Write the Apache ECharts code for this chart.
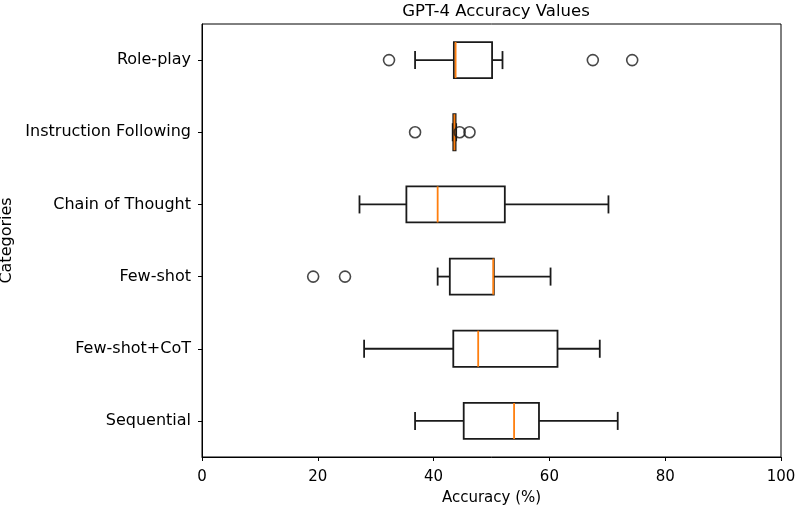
<!DOCTYPE html>
<html>
<head>
<meta charset="utf-8">
<script src="https://cdn.jsdelivr.net/npm/echarts@6/dist/echarts.min.js"></script>
<style>
  html, body { margin: 0; padding: 0; background: #fff; }
  #chart { width: 796px; height: 508px; }
</style>
</head>
<body>
<div id="chart"></div>
<script>
// categories, bottom to top (category axis starts at the bottom)
const categories = ['Sequential', 'Few-shot+CoT', 'Few-shot', 'Chain of Thought', 'Instruction Following', 'Role-play']
// [min whisker, q1, median, q3, max whisker] per category
const boxStats = [
  [36.8, 45.2, 53.9, 58.2, 71.8],
  [28.0, 43.4, 47.7, 61.4, 68.7],
  [40.7, 42.8, 50.3, 50.4, 60.2],
  [27.2, 35.3, 40.7, 52.3, 70.2],
  [43.3, 43.4, 43.6, 43.8, 43.9],
  [36.8, 43.5, 43.8, 50.1, 51.9]
]
// fliers: [value, category]
const outliers = [
  [19.2, 'Few-shot'],
  [24.7, 'Few-shot'],
  [36.8, 'Instruction Following'],
  [44.5, 'Instruction Following'],
  [46.2, 'Instruction Following'],
  [32.3, 'Role-play'],
  [67.5, 'Role-play'],
  [74.3, 'Role-play']
]

const font = 'DejaVu Sans'
const lineColor = '#1a1a1a'
const medianColor = '#ff7f0e'

const chart = echarts.init(document.getElementById('chart'))

const boxData = boxStats.map((s, i) => [i].concat(s))

function renderBox(params, api) {
  const cat = api.value(0)
  const lo = api.value(1), q1 = api.value(2), med = api.value(3), q3 = api.value(4), hi = api.value(5)
  const band = api.size([0, 1])[1]
  const half = band * 0.25   // box width 0.5 of band
  const cap = band * 0.125   // caps are half the box width
  const pLo = api.coord([lo, cat])
  const pQ1 = api.coord([q1, cat])
  const pMed = api.coord([med, cat])
  const pQ3 = api.coord([q3, cat])
  const pHi = api.coord([hi, cat])
  const y = pMed[1]
  const st = { stroke: lineColor, lineWidth: 1.8, fill: null }
  return {
    type: 'group',
    children: [
      { type: 'line', shape: { x1: pLo[0], y1: y, x2: pQ1[0], y2: y }, style: st },
      { type: 'line', shape: { x1: pQ3[0], y1: y, x2: pHi[0], y2: y }, style: st },
      { type: 'line', shape: { x1: pLo[0], y1: y - cap, x2: pLo[0], y2: y + cap }, style: st },
      { type: 'line', shape: { x1: pHi[0], y1: y - cap, x2: pHi[0], y2: y + cap }, style: st },
      { type: 'rect', shape: { x: pQ1[0], y: y - half, width: pQ3[0] - pQ1[0], height: half * 2 }, style: { stroke: lineColor, lineWidth: 1.8, fill: '#fff' } },
      { type: 'line', shape: { x1: pMed[0], y1: y - half, x2: pMed[0], y2: y + half }, style: { stroke: medianColor, lineWidth: 1.8 } }
    ]
  }
}

const option = {
  animation: false,
  backgroundColor: '#fff',
  textStyle: { fontFamily: font, color: '#000' },
  title: {
    text: 'GPT-4 Accuracy Values',
    left: 491,
    textAlign: 'center',
    top: -2,
    textStyle: { fontFamily: font, fontSize: 16.5, fontWeight: 'normal', color: '#000' }
  },
  grid: {
    left: 202,
    right: 15,
    top: 24,
    bottom: 51,
    outerBoundsMode: 'none',
    containLabel: false,
    show: true,
    borderColor: '#000',
    borderWidth: 1,
    backgroundColor: 'transparent'
  },
  xAxis: {
    type: 'value',
    min: 0,
    max: 100,
    interval: 20,
    name: 'Accuracy (%)',
    nameLocation: 'middle',
    nameGap: 34,
    nameTextStyle: { fontFamily: font, fontSize: 15, color: '#000' },
    axisLine: { show: true, lineStyle: { color: '#000', width: 1 } },
    axisTick: { show: true, length: 4, lineStyle: { color: '#000' } },
    axisLabel: { fontFamily: font, fontSize: 15, color: '#000', margin: 13 },
    splitLine: { show: false }
  },
  yAxis: {
    type: 'category',
    data: categories,
    name: 'Categories',
    nameLocation: 'middle',
    nameGap: 183,
    nameRotate: 90,
    nameTextStyle: { fontFamily: font, fontSize: 16, color: '#000' },
    axisLine: { show: true, lineStyle: { color: '#000', width: 1 } },
    axisTick: { show: true, alignWithLabel: true, length: 4, lineStyle: { color: '#000' } },
    axisLabel: { fontFamily: font, fontSize: 16, color: '#000', margin: 11 },
    splitLine: { show: false }
  },
  series: [
    {
      type: 'custom',
      name: 'box',
      renderItem: renderBox,
      encode: { y: 0, x: [1, 2, 3, 4, 5] },
      data: boxData,
      z: 2
    },
    {
      type: 'scatter',
      name: 'outliers',
      data: outliers,
      symbol: 'circle',
      symbolSize: 11,
      itemStyle: { color: 'transparent', borderColor: '#1a1a1a', borderWidth: 1.6 },
      z: 3
    }
  ]
}

chart.setOption(option)
</script>
</body>
</html>
